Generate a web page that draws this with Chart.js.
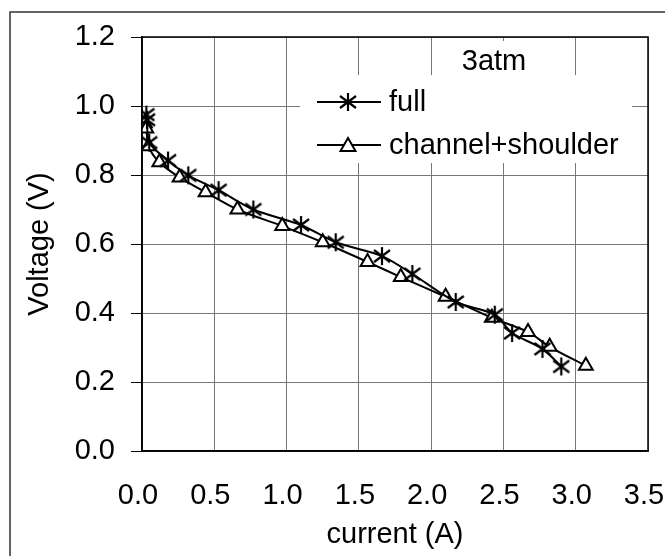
<html lang="en">
<head>
<meta charset="UTF-8">
<title>3atm polarization</title>
<script src="https://cdn.jsdelivr.net/npm/chart.js@4.4.1/dist/chart.umd.min.js"></script>
<style>
  body { margin: 0; background: #fff; }
</style>
</head>
<body>
<canvas id="chart" width="665" height="556"></canvas>
<script>
// values
const fullX = [0.03, 0.035, 0.05, 0.18, 0.32, 0.53, 0.77, 1.10, 1.34, 1.66, 1.87, 2.17, 2.44, 2.56, 2.77, 2.90];
const fullY = [0.975, 0.96, 0.894, 0.842, 0.799, 0.756, 0.70, 0.655, 0.605, 0.565, 0.513, 0.432, 0.395, 0.342, 0.296, 0.245];
const chX = [0.02, 0.03, 0.045, 0.12, 0.26, 0.44, 0.66, 0.97, 1.25, 1.56, 1.79, 2.10, 2.42, 2.67, 2.82, 3.07];
const chY = [0.95, 0.935, 0.883, 0.837, 0.793, 0.75, 0.70, 0.652, 0.605, 0.548, 0.504, 0.447, 0.386, 0.345, 0.302, 0.247];
const seriesNames = ['full', 'channel+shoulder'];
const noteText = '3atm';

const FONT = 'Liberation Sans, Arial, sans-serif';
const FS = 29;

// asterisk marker (vertical bar + X)
function makeStar() {
  const c = document.createElement('canvas');
  c.width = 20; c.height = 20;
  const g = c.getContext('2d');
  g.strokeStyle = '#000';
  g.lineWidth = 2.2;
  g.beginPath();
  g.moveTo(10, 1); g.lineTo(10, 19);
  g.moveTo(2, 4); g.lineTo(18, 16);
  g.moveTo(18, 4); g.lineTo(2, 16);
  g.stroke();
  return c;
}
const star = makeStar();

function pts(xs, ys) {
  return xs.map((x, i) => ({x: x, y: ys[i]}));
}

function drawTri(ctx, x, y) {
  ctx.beginPath();
  ctx.moveTo(x, y - 7);
  ctx.lineTo(x + 7.5, y + 6);
  ctx.lineTo(x - 7.5, y + 6);
  ctx.closePath();
  ctx.fillStyle = '#fff';
  ctx.fill();
  ctx.lineWidth = 2;
  ctx.strokeStyle = '#000';
  ctx.stroke();
}

const decor = {
  id: 'decor',
  afterDraw(chart) {
    const ctx = chart.ctx;
    const a = chart.chartArea;
    ctx.save();
    // outer chart frame (only top/left fall inside the picture)
    ctx.strokeStyle = '#333';
    ctx.lineWidth = 1.5;
    ctx.beginPath();
    ctx.moveTo(10, 556); ctx.lineTo(10, 12); ctx.lineTo(665, 12);
    ctx.stroke();
    // plot frame
    ctx.strokeStyle = '#000';
    ctx.lineWidth = 1.5;
    ctx.strokeRect(a.left, a.top, a.right - a.left, a.bottom - a.top);

    // legend + note boxes
    ctx.fillStyle = '#fff';
    ctx.fillRect(300, 75, 332, 88);
    ctx.fillRect(456, 41, 76, 36);
    ctx.fillStyle = '#000';
    ctx.font = FS + 'px ' + FONT;
    ctx.textBaseline = 'middle';
    ctx.textAlign = 'center';
    ctx.fillText(noteText, 494, 62);
    ctx.textAlign = 'left';
    const rows = [102, 145];
    rows.forEach((ry, i) => {
      ctx.strokeStyle = '#000';
      ctx.lineWidth = 2;
      ctx.beginPath();
      ctx.moveTo(317, ry); ctx.lineTo(381, ry);
      ctx.stroke();
      if (i === 0) ctx.drawImage(star, 348 - 10, ry - 10);
      else drawTri(ctx, 348, ry);
      ctx.fillStyle = '#000';
      ctx.fillText(seriesNames[i], 389, ry + 1);
    });
    ctx.restore();
  }
};

new Chart(document.getElementById('chart'), {
  type: 'scatter',
  data: {
    datasets: [{
      label: seriesNames[0],
      data: pts(fullX, fullY),
      showLine: true,
      borderColor: '#000',
      borderWidth: 2,
      tension: 0.3,
      pointStyle: star,
      pointRadius: 9
    }, {
      label: seriesNames[1],
      data: pts(chX, chY),
      showLine: true,
      borderColor: '#000',
      borderWidth: 2,
      tension: 0.3,
      pointStyle: 'triangle',
      pointRadius: 8,
      pointBackgroundColor: '#fff',
      pointBorderColor: '#000',
      pointBorderWidth: 2
    }]
  },
  options: {
    responsive: false,
    animation: false,
    layout: { padding: { left: 10, top: 37, right: 17, bottom: 0 } },
    plugins: { legend: { display: false }, tooltip: { enabled: false } },
    scales: {
      x: {
        type: 'linear',
        min: 0, max: 3.5,
        afterFit(s) { s.height = 105; s.paddingLeft = 0; s.paddingRight = 0; },
        border: { color: '#000', width: 1.5 },
        grid: { color: '#777', lineWidth: 1, drawTicks: false },
        ticks: {
          stepSize: 0.5,
          padding: 28,
          labelOffset: -4,
          color: '#000',
          font: { family: FONT, size: FS },
          maxRotation: 0,
          callback: v => v.toFixed(1)
        },
        title: {
          display: true,
          text: 'current (A)',
          color: '#000',
          font: { family: FONT, size: FS },
          padding: { top: 4, bottom: 4 }
        }
      },
      y: {
        type: 'linear',
        min: 0, max: 1.2,
        afterFit(s) { s.width = 132; s.paddingTop = 0; s.paddingBottom = 0; },
        border: { color: '#000', width: 1.5 },
        grid: { color: '#777', lineWidth: 1, tickLength: 11, tickColor: '#000' },
        ticks: {
          stepSize: 0.2,
          padding: 16,
          color: '#000',
          font: { family: FONT, size: FS },
          callback: v => v.toFixed(1)
        },
        title: {
          display: true,
          text: 'Voltage (V)',
          color: '#000',
          font: { family: FONT, size: FS },
          padding: { top: 13, bottom: 13 }
        }
      }
    }
  },
  plugins: [decor]
});
</script>
</body>
</html>
